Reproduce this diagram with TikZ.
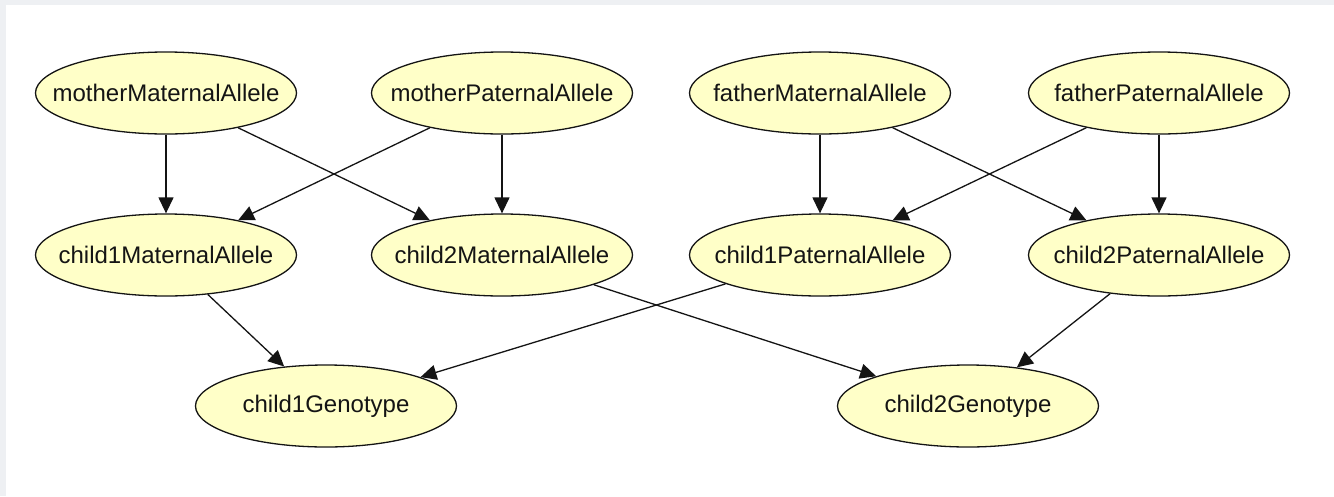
\documentclass[tikz,border=0pt]{standalone}
\usepackage{fontspec}
\setmainfont{Liberation Sans}
\usetikzlibrary{shapes.geometric,arrows.meta}
\definecolor{nodefill}{RGB}{255,255,200}
\definecolor{bggray}{RGB}{238,240,243}
\definecolor{inkc}{RGB}{20,20,20}
\newcommand{\lbl}[1]{\makebox[0pt][c]{#1}}
\tikzset{
  var/.style={ellipse, draw=inkc, line width=1.3pt, fill=nodefill,
    minimum width=261pt, minimum height=82pt, inner sep=0pt,
    font=\fontsize{24}{28}\selectfont, text=inkc},
  edge/.style={draw=inkc, line width=1.3pt, -{Triangle[length=16pt,width=15pt]}}
}
\begin{document}
\begin{tikzpicture}[x=1pt,y=-1pt]
\fill[bggray] (0,0) rectangle (1334,496);
\fill[white] (6,5) rectangle (1334,496);
\useasboundingbox (0,0) rectangle (1334,496);
\node[var] (mma) at (166,93) {\lbl{motherMaternalAllele}};
\node[var] (mpa) at (502,93) {\lbl{motherPaternalAllele}};
\node[var] (fma) at (820,93) {\lbl{fatherMaternalAllele}};
\node[var] (fpa) at (1159,93) {\lbl{fatherPaternalAllele}};
\node[var] (c1m) at (166,255) {\lbl{child1MaternalAllele}};
\node[var] (c2m) at (502,255) {\lbl{child2MaternalAllele}};
\node[var] (c1p) at (820,255) {\lbl{child1PaternalAllele}};
\node[var] (c2p) at (1159,255) {\lbl{child2PaternalAllele}};
\node[var] (g1) at (326,406) {\lbl{child1Genotype}};
\node[var] (g2) at (968,406) {\lbl{child2Genotype}};
\draw[edge] (mma) -- (c1m);
\draw[edge] (mma) -- (c2m);
\draw[edge] (mpa) -- (c1m);
\draw[edge] (mpa) -- (c2m);
\draw[edge] (fma) -- (c1p);
\draw[edge] (fma) -- (c2p);
\draw[edge] (fpa) -- (c1p);
\draw[edge] (fpa) -- (c2p);
\draw[edge] (c1m) -- (g1);
\draw[edge] (c1p) -- (g1);
\draw[edge] (c2m) -- (g2);
\draw[edge] (c2p) -- (g2);
\end{tikzpicture}
\end{document}
